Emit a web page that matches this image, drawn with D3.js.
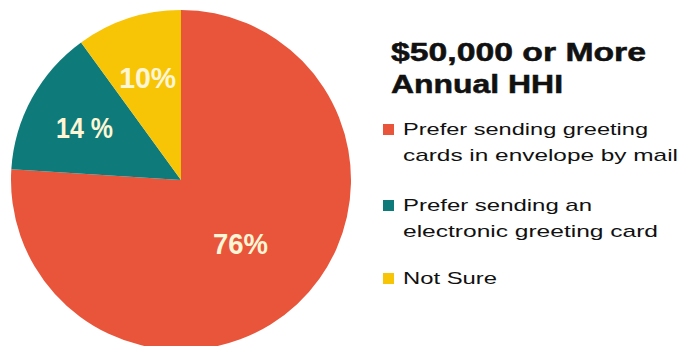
<!DOCTYPE html>
<html>
<head>
<meta charset="utf-8">
<script src="https://cdn.jsdelivr.net/npm/d3@7"></script>
<style>
  html, body { margin: 0; padding: 0; background: #ffffff; }
  svg { display: block; }
</style>
</head>
<body>
<svg id="chart" width="681" height="346"></svg>
<script>
// Survey shares: how households with $50,000+ income prefer to send greeting cards
const categories = [
  "Prefer sending greeting cards in envelope by mail",
  "Prefer sending an electronic greeting card",
  "Not Sure"
];
const values = [76, 14, 10];
const sliceLabels = ["76%", "14 %", "10%"];
const legendLines = [
  ["Prefer sending greeting", "cards in envelope by mail"],
  ["Prefer sending an", "electronic greeting card"],
  ["Not Sure"]
];
const titleLines = ["$50,000 or More", "Annual HHI"];
const colors = ["#E9553A", "#0E7B7A", "#F8C406"];

const svg = d3.select("#chart");

// Pie geometry
const cx = 181, cy = 180, radius = 170;
const labelRadius = [87, 110, 108];

const pie = d3.pie().sort(null).value(d => d)(values);
const arc = d3.arc().innerRadius(0).outerRadius(radius);

const g = svg.append("g").attr("transform", `translate(${cx},${cy})`);

g.selectAll("path.slice")
  .data(pie)
  .join("path")
  .attr("class", "slice")
  .attr("d", arc)
  .attr("fill", (d, i) => colors[i]);

// Percentage labels inside each slice
const labelWidths = [55, 57, 57];
g.selectAll("text.pct")
  .data(pie)
  .join("text")
  .attr("class", "pct")
  .attr("transform", (d, i) => {
    const r = labelRadius[i];
    const c = d3.arc().innerRadius(r).outerRadius(r).centroid(d);
    return `translate(${c[0]},${c[1]})`;
  })
  .attr("text-anchor", "middle")
  .attr("dy", "0.36em")
  .attr("font-family", "'Liberation Sans Narrow', 'Liberation Sans', Arial, sans-serif")
  .attr("font-weight", "bold")
  .attr("font-size", 30)
  .attr("fill", "#FFF6D6")
  .attr("textLength", (d, i) => labelWidths[i])
  .attr("lengthAdjust", "spacingAndGlyphs")
  .text((d, i) => sliceLabels[i]);

// Title
const titleWidths = [255, 172];
svg.selectAll("text.title")
  .data(titleLines)
  .join("text")
  .attr("class", "title")
  .attr("x", 391)
  .attr("y", (d, i) => 61 + i * 32)
  .attr("font-family", "'Liberation Sans', Arial, sans-serif")
  .attr("font-weight", "bold")
  .attr("font-size", 25)
  .attr("fill", "#111111")
  .attr("stroke", "#111111")
  .attr("stroke-width", 0.5)
  .attr("textLength", (d, i) => titleWidths[i])
  .attr("lengthAdjust", "spacingAndGlyphs")
  .text(d => d);

// Legend
const legendTop = [124, 200, 273];
const lineWidths = [[245, 275], [189, 255], [94]];
const legend = svg.append("g");
categories.forEach((cat, i) => {
  const item = legend.append("g").attr("transform", `translate(383,${legendTop[i]})`);
  item.append("rect")
    .attr("width", 11).attr("height", 11)
    .attr("fill", colors[i]);
  item.selectAll("text")
    .data(legendLines[i])
    .join("text")
    .attr("x", 20)
    .attr("y", (d, j) => 11 + j * 25.5)
    .attr("font-family", "'Liberation Sans', Arial, sans-serif")
    .attr("font-size", 17)
    .attr("fill", "#111111")
    .attr("textLength", (d, j) => lineWidths[i][j])
    .attr("lengthAdjust", "spacingAndGlyphs")
    .text(d => d);
});
</script>
</body>
</html>
